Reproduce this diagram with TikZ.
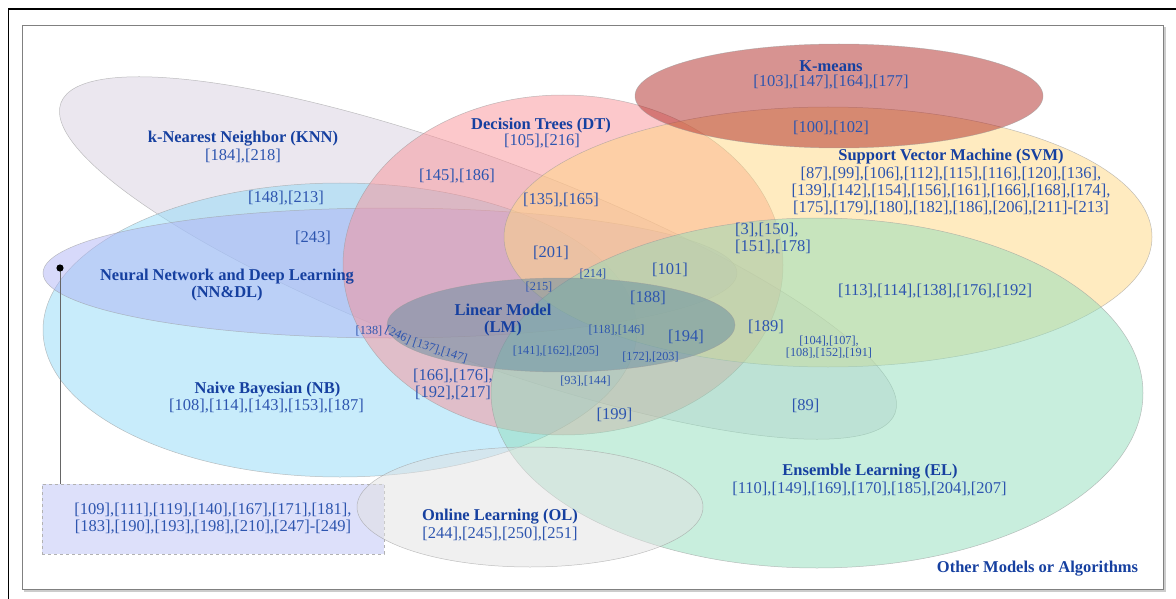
\documentclass[tikz,border=0pt]{standalone}
\usepackage{fontspec}
\setmainfont{Liberation Serif}
\usetikzlibrary{calc}
\definecolor{lblblue}{RGB}{22,64,160}
\definecolor{refblue}{RGB}{45,85,175}
\definecolor{knnc}{RGB}{215,208,224}
\definecolor{nbc}{RGB}{145,217,247}
\definecolor{nnc}{RGB}{175,180,245}
\definecolor{dtc}{RGB}{249,145,151}
\definecolor{svmc}{RGB}{255,215,130}
\definecolor{elc}{RGB}{145,221,187}
\definecolor{kmc}{RGB}{175,40,35}
\definecolor{lmc}{RGB}{100,140,160}
\definecolor{olc}{RGB}{225,225,225}
\definecolor{boxc}{RGB}{221,224,250}

\begin{document}
\begin{tikzpicture}[x=1pt,y=-1pt,
  set/.style={draw=black!40,draw opacity=0.6,line width=0.5pt,fill opacity=0.5},
  lbl/.style={font=\fontsize{16.5}{17}\selectfont\bfseries,text=lblblue,align=center,inner sep=0pt},
  ref/.style={font=\fontsize{16.5}{17}\selectfont,text=refblue,align=center,inner sep=0pt},
  sref/.style={font=\fontsize{12.3}{12.5}\selectfont,text=refblue,align=center,inner sep=0pt}]
\useasboundingbox (0,0) rectangle (1176,599);
% frames
\draw[line width=1.3pt] (8.5,599) -- (8.5,9) -- (1176,9);
\draw[black!20,line width=1.5pt] (24,591) -- (1165,591) -- (1165,27);
\draw[black!50,line width=0.8pt] (22,25) rectangle (1163,589);

% the sets
\draw[set,fill=knnc,rotate around={-20.4:(478,258)}] (478,258) ellipse [x radius=445pt,y radius=100pt];
\draw[set,fill=nbc] (340,330) ellipse [x radius=297pt,y radius=147pt];
\draw[set,fill=nnc] (390,273) ellipse [x radius=347pt,y radius=65pt];
\draw[set,fill=dtc] (563,265) ellipse [x radius=220pt,y radius=170pt];
\draw[set,fill=svmc] (828,237) ellipse [x radius=324pt,y radius=130pt];
\draw[set,fill=elc] (817,393) ellipse [x radius=326pt,y radius=175pt];
\draw[set,fill=kmc] (839,96) ellipse [x radius=204pt,y radius=52pt];
\draw[set,fill=lmc] (561,325) ellipse [x radius=174pt,y radius=47pt];

% other models
\node[ref,draw=black!30,dashed,fill=boxc,minimum width=342pt,minimum height=70pt] (others) at (213,519)
  {[109],[111],[119],[140],[167],[171],[181],\\{}[183],[190],[193],[198],[210],[247]-[249]};
\coordinate (pin) at (60,268);
\draw[black!60,line width=0.6pt] (pin) -- (others.north -| pin);
\fill (pin) circle (3.6pt);

\draw[set,fill=olc] (530,507) ellipse [x radius=173pt,y radius=60pt];

% labels
\node[lbl] (km) at (831,66) {K-means};
\node[ref] (kmref) at (831,82) {[103],[147],[164],[177]};
\node[ref] (kmsvm) at (831,128) {[100],[102]};
\node[lbl] (dt) at (541,126) {Decision Trees (DT)};
\node[ref] (dtref) at (542,141) {[105],[216]};
\node[lbl] (knn) at (243,139) {k-Nearest Neighbor (KNN)};
\node[ref] (knnref) at (243,156) {[184],[218]};
\node[lbl] (svm) at (951,157) {Support Vector Machine (SVM)};
\node[ref] (svmref) at (951,191)
  {[87],[99],[106],[112],[115],[116],[120],[136],\\{}[139],[142],[154],[156],[161],[166],[168],[174],\\{}[175],[179],[180],[182],[186],[206],[211]-[213]};
\node[ref] (knndt) at (457,176) {[145],[186]};
\node[ref] (knnnb) at (286,198) {[148],[213]};
\node[ref] (dtsvm) at (561,200) {[135],[165]};
\node[ref] (knnnn) at (313,238) {[243]};
\node[ref] (dtnn) at (551,253) {[201]};
\node[ref,align=left,anchor=west] (dtsvmel) at (735,239) {[3],[150],\\{}[151],[178]};
\node[sref] (s214) at (593,274) {[214]};
\node[ref] (s101) at (670,270) {[101]};
\node[lbl] (nn) at (227,285) {Neural Network and Deep Learning\\(NN\&DL)};
\node[sref] (s215) at (539,287) {[215]};
\node[ref] (s188) at (648,298) {[188]};
\node[ref] (svmel) at (935,291) {[113],[114],[138],[176],[192]};
\node[lbl] (lm) at (503,320) {Linear Model\\(LM)};
\node[sref] (s138) at (369,331) {[138]};
\node[sref,rotate=-25] (s246) at (398,335) {[246]};
\node[sref,rotate=-18] (s137) at (440,351) {[137],[147]};
\node[sref] (s118) at (616.5,330.5) {[118],[146]};
\node[ref] (s194) at (686,337) {[194]};
\node[ref] (s189) at (766,327) {[189]};
\node[sref] (s104) at (829,347) {[104],[107],\\{}[108],[152],[191]};
\node[sref] (s141) at (556,351) {[141],[162],[205]};
\node[sref] (s172) at (650.5,357.5) {[172],[203]};
\node[ref] (s166) at (453,384.5) {[166],[176],\\{}[192],[217]};
\node[sref] (s93) at (585.5,381) {[93],[144]};
\node[lbl] (nb) at (267.5,389.5) {Naive Bayesian (NB)};
\node[ref] (nbref) at (266.5,406.5) {[108],[114],[143],[153],[187]};
\node[ref] (s89) at (805.5,405.5) {[89]};
\node[ref] (s199) at (614.5,415) {[199]};
\node[lbl] (el) at (870,472) {Ensemble Learning (EL)};
\node[ref] (elref) at (869.5,489) {[110],[149],[169],[170],[185],[204],[207]};
\node[lbl] (ol) at (500,517) {Online Learning (OL)};
\node[ref] (olref) at (500,534) {[244],[245],[250],[251]};
\node[lbl] (other) at (1037.5,569) {Other Models or Algorithms};
\end{tikzpicture}
\end{document}
